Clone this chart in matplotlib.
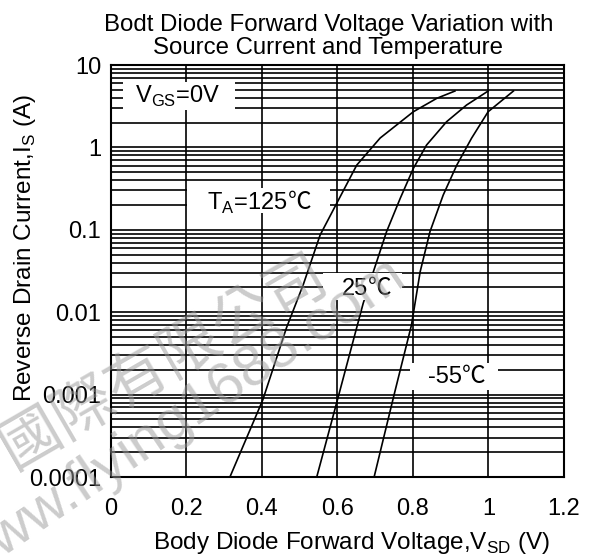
import matplotlib
matplotlib.use('Agg')
import matplotlib.pyplot as plt
import matplotlib.ticker as mticker
from matplotlib.patches import Rectangle
import numpy as np

plt.rcParams['font.family'] = ['Liberation Sans', 'DejaVu Sans']
plt.rcParams['mathtext.fontset'] = 'custom'
plt.rcParams['mathtext.rm'] = 'Liberation Sans'

# curves: V_SD (V) vs I_S (A)
v_125 = [0.315, 0.402, 0.465, 0.509, 0.554, 0.598, 0.651, 0.713, 0.801, 0.863, 0.911]
i_125 = [1e-4, 8.6e-4, 0.0065, 0.0214, 0.0865, 0.21, 0.61, 1.30, 2.71, 3.94, 4.83]

v_25 = [0.545, 0.602, 0.668, 0.695, 0.730, 0.766, 0.801, 0.836, 0.889, 0.942, 0.999]
i_25 = [1e-4, 9.4e-4, 0.0128, 0.031, 0.095, 0.24, 0.557, 1.07, 2.05, 3.27, 4.83]

v_m55 = [0.697, 0.75, 0.796, 0.819, 0.845, 0.880, 0.916, 0.955, 0.999, 1.066]
i_m55 = [1e-4, 1e-3, 0.0070, 0.031, 0.095, 0.264, 0.61, 1.29, 2.71, 4.83]

xticks = [0, 0.2, 0.4, 0.6, 0.8, 1.0, 1.2]
xtick_labels = ['0', '0.2', '0.4', '0.6', '0.8', '1', '1.2']
yticks = [1e-4, 1e-3, 1e-2, 1e-1, 1, 10]
ytick_labels = ['0.0001', '0.001', '0.01', '0.1', '1', '10']

fig = plt.figure(figsize=(5.92, 5.57), dpi=100)
ax = fig.add_axes([0.1875, 0.1436, 0.7652, 0.7397])

for v, i in [(v_125, i_125), (v_25, i_25), (v_m55, i_m55)]:
    ax.plot(v, i, color='black', lw=1.2, zorder=3, solid_joinstyle='round')

ax.set_yscale('log')
ax.set_xlim(0, 1.2)
ax.set_ylim(1e-4, 10)
ax.set_xticks(xticks)
ax.set_xticklabels(xtick_labels)
ax.set_yticks(yticks)
ax.set_yticklabels(ytick_labels)
ax.yaxis.set_minor_locator(mticker.LogLocator(base=10, subs=np.arange(2, 10)))
ax.yaxis.set_minor_formatter(mticker.NullFormatter())
ax.tick_params(which='both', length=0, labelsize=17)
ax.tick_params(axis='x', pad=15)
ax.tick_params(axis='y', pad=7)
ax.grid(True, which='both', color='black', lw=1.2)
ax.set_axisbelow(True)
for s in ax.spines.values():
    s.set_linewidth(1.5)

ax.set_title('Bodt Diode Forward Voltage Variation with\nSource Current and Temperature',
             fontsize=17.3, linespacing=1.08, pad=8, x=0.48)
ax.set_xlabel('Body Diode Forward Voltage,V$_{\\rm SD}$ (V)', fontsize=17.5)
ax.xaxis.set_label_coords(0.53, -0.16)
ax.xaxis.label.set_va('center')
ax.set_ylabel('Reverse Drain Current,I$_{\\rm S}$ (A)', fontsize=17.5)
ax.yaxis.set_label_coords(-0.19, 0.556)
ax.yaxis.label.set_va('center')

# white label boxes (data coords)
boxes = [(0.032, 2.84, 0.328, 6.22), (0.201, 0.16, 0.580, 0.321),
         (0.562, 0.01406, 0.771, 0.0299), (0.792, 0.001137, 1.025, 0.00242)]
for x0, y0, x1, y1 in boxes:
    ax.add_patch(Rectangle((x0, y0), x1 - x0, y1 - y0, facecolor='white',
                           edgecolor='none', zorder=4))

ax.text(0.176, 3.43, 'V$_{\\rm GS}$=0V', fontsize=17, ha='center', va='baseline', zorder=5)


def temp_label(xs, yb, num):
    ax.text(xs, yb, num, fontsize=17, ha='right', va='baseline', zorder=5)
    ax.text(xs, yb, '\u2103', fontsize=17, ha='left', va='baseline', zorder=5,
            family=['Noto Sans CJK TC'], fontweight='light')


temp_label(0.469, 0.177, 'T$_{\\rm A}$=125')
temp_label(0.681, 0.0162, '25')
temp_label(0.929, 0.00137, '-55')

# watermark
fig.text(163 / 592, 1 - 362 / 557, '國際有限公司', fontsize=44, color='#999999', alpha=0.5,
         rotation=30, rotation_mode='anchor', ha='center', va='center',
         family=['Noto Sans CJK TC'], zorder=10)
fig.text(180 / 592, 1 - 420 / 557, 'www.flying1688.com', fontsize=42, color='#999999', alpha=0.5,
         rotation=34, rotation_mode='anchor', ha='center', va='center', zorder=10)

fig.savefig('out.png', dpi=100)
